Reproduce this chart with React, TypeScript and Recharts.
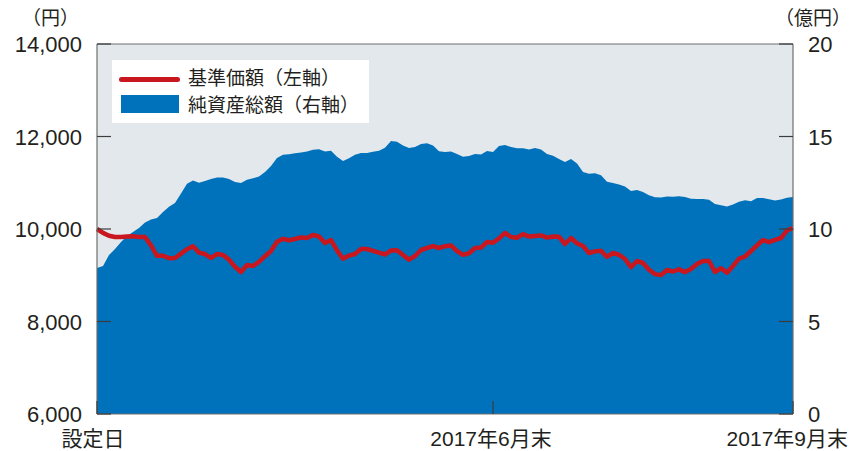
import React from 'react';
import { ComposedChart, Area, Line, XAxis, YAxis, CartesianGrid, ReferenceLine } from 'recharts';

// 純資産総額（億円）, one value per sampled business day
const netAssets = [
  7.89, 8.0, 8.59, 8.92, 9.3, 9.62, 9.84, 10.05, 10.35, 10.52,
  10.59, 10.92, 11.2, 11.41, 11.92, 12.44, 12.62, 12.5, 12.6, 12.7,
  12.79, 12.78, 12.7, 12.54, 12.49, 12.66, 12.74, 12.84, 13.08, 13.41,
  13.84, 14.01, 14.04, 14.09, 14.14, 14.19, 14.29, 14.31, 14.19, 14.23,
  13.9, 13.68, 13.83, 14.01, 14.11, 14.11, 14.18, 14.23, 14.39, 14.76,
  14.71, 14.51, 14.38, 14.43, 14.59, 14.63, 14.52, 14.2, 14.16, 14.19,
  14.05, 13.9, 13.94, 14.05, 14.03, 14.22, 14.16, 14.49, 14.54, 14.43,
  14.37, 14.36, 14.3, 14.38, 14.3, 14.05, 13.96, 13.78, 13.62, 13.78,
  13.54, 13.08, 12.99, 13.01, 12.9, 12.55, 12.49, 12.4, 12.3, 12.05,
  12.11, 12.0, 11.82, 11.71, 11.7, 11.76, 11.75, 11.77, 11.73, 11.64,
  11.62, 11.62, 11.58, 11.35, 11.28, 11.21, 11.32, 11.47, 11.55, 11.5,
  11.68, 11.68, 11.61, 11.54, 11.59, 11.69, 11.73,
];

// 基準価額（円）
const navYen = [
  10000, 9916, 9855, 9827, 9827, 9838, 9844, 9827, 9827, 9645,
  9421, 9421, 9369, 9373, 9468, 9563, 9628, 9490, 9459, 9373,
  9459, 9440, 9338, 9183, 9070, 9222, 9200, 9291, 9412, 9524,
  9725, 9786, 9756, 9784, 9818, 9805, 9870, 9840, 9697, 9762,
  9537, 9356, 9425, 9459, 9568, 9568, 9529, 9490, 9449, 9533,
  9542, 9438, 9338, 9416, 9546, 9589, 9632, 9589, 9628, 9645,
  9524, 9442, 9475, 9589, 9598, 9719, 9702, 9797, 9914, 9827,
  9810, 9888, 9836, 9849, 9862, 9814, 9836, 9831, 9676, 9805,
  9693, 9632, 9481, 9516, 9529, 9399, 9481, 9444, 9351, 9174,
  9308, 9265, 9120, 9025, 9003, 9114, 9081, 9127, 9068, 9135,
  9243, 9308, 9308, 9070, 9152, 9057, 9200, 9360, 9405, 9524,
  9645, 9762, 9715, 9766, 9805, 9970, 10022,
];

const xTicks = [0, 66, 116];
const xTickLabels = ['設定日', '2017年6月末', '2017年9月末'];
const leftTicks = [6000, 8000, 10000, 12000, 14000];
const rightTicks = [0, 5, 10, 15, 20];

const rows = navYen.map((nav, i) => ({ day: i, nav, assets: netAssets[i] }));

const FONT = '"Liberation Sans", Arial, "Noto Sans CJK JP", sans-serif';
const TEXT = '#231f20';
const BORDER = '#6e6e6e';
const TICK = '#3c3c3c';
const RED = '#c8171e';
const BLUE = '#0071bb';
const TICK_LEN = 14;
const GAP = 15;

const withCommas = (v: number) => String(v).replace(/\B(?=(\d{3})+(?!\d))/g, ',');

function LeftTick({ x, y, payload }: any) {
  return (
    <g>
      <line x1={x + GAP} x2={x + GAP + TICK_LEN} y1={y} y2={y} stroke={TICK} strokeWidth={1.2} />
      <text x={x} y={y} dy={8} textAnchor="end" fill={TEXT} fontSize={22} fontFamily={FONT}>
        {withCommas(payload.value)}
      </text>
    </g>
  );
}

function RightTick({ x, y, payload }: any) {
  return (
    <g>
      <line x1={x - GAP} x2={x - GAP - TICK_LEN} y1={y} y2={y} stroke={TICK} strokeWidth={1.2} />
      <text x={x} y={y} dy={8} textAnchor="start" fill={TEXT} fontSize={22} fontFamily={FONT}>
        {payload.value}
      </text>
    </g>
  );
}

function BottomTick({ x, y, payload }: any) {
  const idx = xTicks.indexOf(payload.value);
  const label = xTickLabels[idx];
  const isLast = idx === xTicks.length - 1;
  return (
    <g>
      <line x1={x} x2={x} y1={y - GAP} y2={y - GAP - 13} stroke={TICK} strokeWidth={1.2} />
      <text
        x={isLast ? x + 55 : idx === 0 ? x - 4 : x - 2}
        y={y}
        dy={17}
        textAnchor={isLast ? 'end' : 'middle'}
        fill={TEXT}
        fontSize={21}
        fontFamily={FONT}
      >
        {label}
      </text>
    </g>
  );
}

export default function App() {
  return (
    <div
      style={{
        position: 'absolute',
        left: 0,
        top: 0,
        width: 852,
        height: 451,
        overflow: 'hidden',
        background: '#fff',
        fontFamily: FONT,
        color: TEXT,
      }}
    >
      <ComposedChart width={852} height={451} data={rows} margin={{ top: 44, right: 9, bottom: 7, left: 37 }}>
        <CartesianGrid yAxisId="left" horizontal={false} vertical={false} fill="#e3e8ed" />
        <Area
          yAxisId="right"
          dataKey="assets"
          type="linear"
          fill={BLUE}
          fillOpacity={1}
          stroke="none"
          isAnimationActive={false}
        />
        <Line
          yAxisId="left"
          dataKey="nav"
          type="linear"
          stroke={RED}
          strokeWidth={4.5}
          strokeLinejoin="round"
          dot={false}
          activeDot={false}
          isAnimationActive={false}
        />
        <ReferenceLine yAxisId="left" y={14000} stroke={BORDER} strokeWidth={1.2} />
        <XAxis
          dataKey="day"
          type="number"
          domain={[0, 116]}
          ticks={xTicks}
          interval={0}
          height={30}
          tickSize={0}
          tickMargin={GAP}
          tick={<BottomTick />}
          axisLine={{ stroke: BORDER, strokeWidth: 1.2 }}
          tickLine={false}
        />
        <YAxis
          yAxisId="left"
          domain={[6000, 14000]}
          ticks={leftTicks}
          interval={0}
          width={60}
          tickSize={0}
          tickMargin={GAP}
          tick={<LeftTick />}
          axisLine={{ stroke: BORDER, strokeWidth: 1.2 }}
          tickLine={false}
        />
        <YAxis
          yAxisId="right"
          orientation="right"
          domain={[0, 20]}
          ticks={rightTicks}
          interval={0}
          width={50}
          tickSize={0}
          tickMargin={GAP}
          tick={<RightTick />}
          axisLine={{ stroke: BORDER, strokeWidth: 1.2 }}
          tickLine={false}
        />
      </ComposedChart>

      <div style={{ position: 'absolute', left: 22, top: 9, fontSize: 19, lineHeight: '19px' }}>（円）</div>
      <div style={{ position: 'absolute', right: 1, top: 9, fontSize: 19, lineHeight: '19px', whiteSpace: 'nowrap' }}>
        （億円）
      </div>

      <div style={{ position: 'absolute', left: 112, top: 60, width: 257, height: 63, background: '#fff' }}>
        <div style={{ position: 'absolute', left: 7, top: 17, width: 61, height: 5, borderRadius: 3, background: RED }} />
        <div style={{ position: 'absolute', left: 76, top: 9, fontSize: 19, lineHeight: '19px', whiteSpace: 'nowrap' }}>
          基準価額（左軸）
        </div>
        <div style={{ position: 'absolute', left: 9, top: 35, width: 58, height: 18, background: BLUE }} />
        <div style={{ position: 'absolute', left: 76, top: 36, fontSize: 19, lineHeight: '19px', whiteSpace: 'nowrap' }}>
          純資産総額（右軸）
        </div>
      </div>
    </div>
  );
}
